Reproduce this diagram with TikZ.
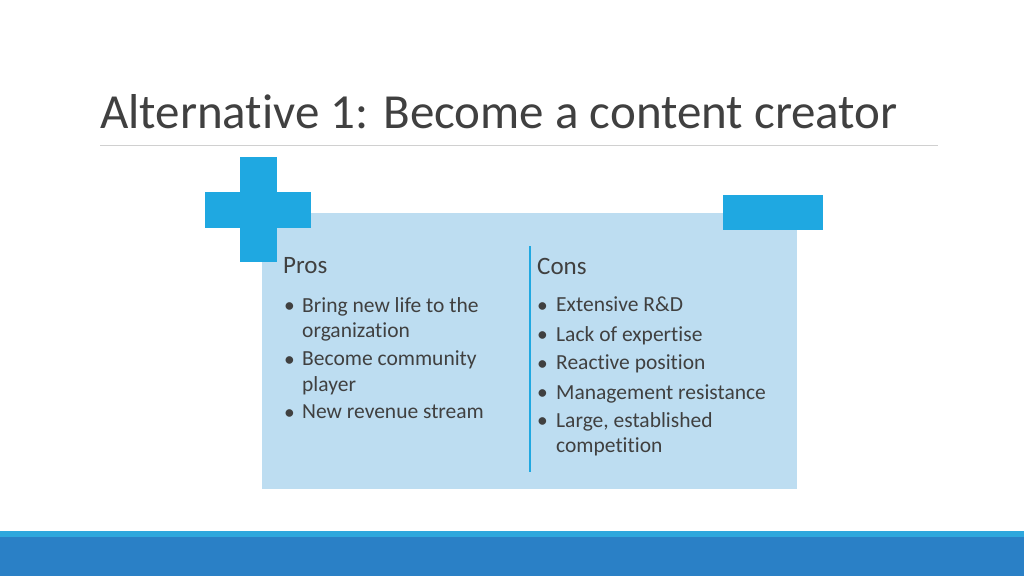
\documentclass[tikz,border=0pt]{standalone}
\usepackage{fontspec}
\setmainfont{Carlito}[Ligatures={NoCommon}]
\usetikzlibrary{positioning}
\definecolor{titlegray}{HTML}{404040}
\definecolor{panelblue}{HTML}{BDDDF1}
\definecolor{signblue}{HTML}{1FA8E1}
\definecolor{barblue}{HTML}{2A80C6}
\definecolor{stripeblue}{HTML}{2EA7DD}
\definecolor{rulegray}{HTML}{D0D0D0}
\begin{document}
\begin{tikzpicture}[
    x=1pt, y=-1pt,
    heading/.style={anchor=west, font=\fontsize{25}{28}\selectfont, text=titlegray, inner sep=0pt},
    entry/.style={anchor=north west, align=left, font=\fontsize{21.5}{25}\selectfont, text=titlegray, inner sep=0pt},
    dot/.style={anchor=west, font=\fontsize{21.5}{25}\selectfont, text=titlegray, inner sep=0pt}
]
    \useasboundingbox[fill=white] (0,0) rectangle (1024,576);
    % TITLE
    \node[anchor=base west, inner sep=0pt, text=titlegray, font=\fontsize{49}{54}\selectfont] (title) at (100,128) {Alternative 1: Become a content creator};
    \draw[rulegray] (100,145.5) coordinate (rulel) -- (938,145.5) coordinate (ruler);
    % PANEL AND SIGNS
    \fill[panelblue] (262,213) rectangle (797,489);
    \fill[signblue] (240,157) rectangle (277,262);
    \fill[signblue] (205,192) rectangle (311,228);
    \fill[signblue] (723,195) rectangle (823,230);
    \draw[signblue, line width=1.5pt] (530,246) coordinate (divtop) -- (530,472) coordinate (divbot);
    % HEADINGS
    \node[heading] (pros) at (283,266) {Pros};
    \node[heading] (cons) at (537,266) {Cons};
    % PROS
    \foreach \y/\txt in {297/{Bring new life to the\\organization}, 351/{Become community\\player}, 404/{New revenue stream}} {
        \node[dot] at (284,\y+11) {\textbullet};
        \node[entry] at (302,\y) {\txt};
    }
    % CONS
    \foreach \y/\txt in {297/{Extensive R\&D}, 326/{Lack of expertise}, 355/{Reactive position}, 384/{Management resistance}, 412/{Large, established\\competition}} {
        \node[dot] at (537,\y+11) {\textbullet};
        \node[entry] at (556,\y) {\txt};
    }
    % FOOTER
    \fill[stripeblue] (0,531) rectangle (1024,537);
    \fill[barblue] (0,537) rectangle (1024,576);
\end{tikzpicture}
\end{document}
